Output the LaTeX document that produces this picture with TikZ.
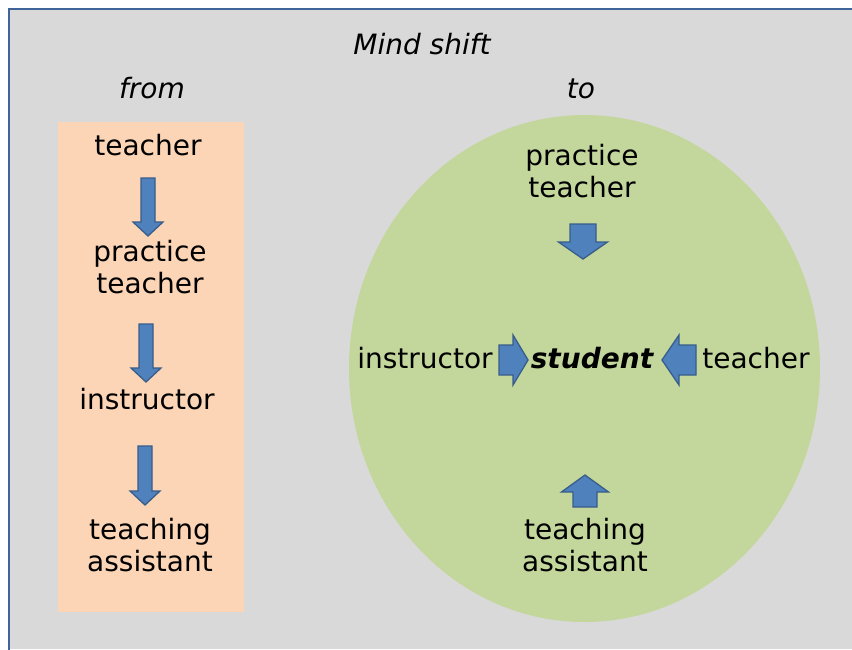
\documentclass[tikz,border=0pt]{standalone}
\usepackage{fontspec}
\setmainfont{DejaVu Sans}
\definecolor{bggray}{HTML}{D9D9D9}
\definecolor{peach}{HTML}{FBD5B5}
\definecolor{leaf}{HTML}{C3D69B}
\definecolor{arrblue}{HTML}{4F81BD}
\definecolor{arredge}{HTML}{385D8A}
\definecolor{frameblue}{HTML}{3F649A}
\begin{document}
\begin{tikzpicture}[x=1pt,y=-1pt,
  lbl/.style={font=\fontsize{28}{32.5}\selectfont, inner sep=0pt, align=center},
  ilbl/.style={font=\fontsize{28}{32.5}\selectfont\itshape, inner sep=0pt, align=center},
  blbl/.style={font=\fontsize{28}{32.5}\selectfont\bfseries\itshape, inner sep=0pt, align=center},
  blockarrow/.style={fill=arrblue, draw=arredge, line width=1.3pt, line join=miter},
  pics/barrow/.style args={#1/#2/#3/#4}{code={%
    \draw[blockarrow] (0,{-#2/2}) -- ({#1-#4},{-#2/2}) -- ({#1-#4},{-#3/2}) -- (#1,0)
      -- ({#1-#4},{#3/2}) -- ({#1-#4},{#2/2}) -- (0,{#2/2}) -- cycle;}}
]
\useasboundingbox (0,0) rectangle (852,649);
\fill[white] (0,0) rectangle (852,649);
\fill[bggray] (9,9) rectangle (852,649);
\draw[frameblue, line width=2pt] (9,660) -- (9,9) -- (860,9);
\fill[peach] (58,122) rectangle (244,612);
\fill[leaf] (584.5,368.5) ellipse [x radius=235.5, y radius=253.5];

% headings
\node[ilbl, anchor=base] (title) at (422,54) {Mind shift};
\node[ilbl, anchor=base] (from) at (152,98) {from};
\node[ilbl, anchor=base] (to) at (581,98) {to};

% left column
\node[lbl, anchor=base] (lt) at (148,155) {teacher};
\node[lbl] (lpt) at (150,267) {practice\\teacher};
\node[lbl, anchor=base] (li) at (147,409) {instructor};
\node[lbl] (lta) at (150,545) {teaching\\assistant};

\pic[rotate=-90] (la1) at (148,178) {barrow=58/14/30/14};
\pic[rotate=-90] (la2) at (146,324) {barrow=58/14/30/14};
\pic[rotate=-90] (la3) at (145,446) {barrow=59/14/30/14};

% right circle
\node[lbl] (rpt) at (582,171) {practice\\teacher};
\node[lbl, anchor=base] (ri) at (425,368) {instructor};
\node[blbl, anchor=base] (rs) at (592,368) {student};
\node[lbl, anchor=base] (rt) at (756,368) {teacher};
\node[lbl] (rta) at (585,545) {teaching\\assistant};

\pic[rotate=-90] (ra1) at (583,224) {barrow=35/26/49/17};
\pic (ra2) at (499,360) {barrow=29/30/50/15};
\pic[rotate=180] (ra3) at (696,360) {barrow=34/30/50/17};
\pic[rotate=90] (ra4) at (585,507) {barrow=32/24/47/17};
\end{tikzpicture}
\end{document}
